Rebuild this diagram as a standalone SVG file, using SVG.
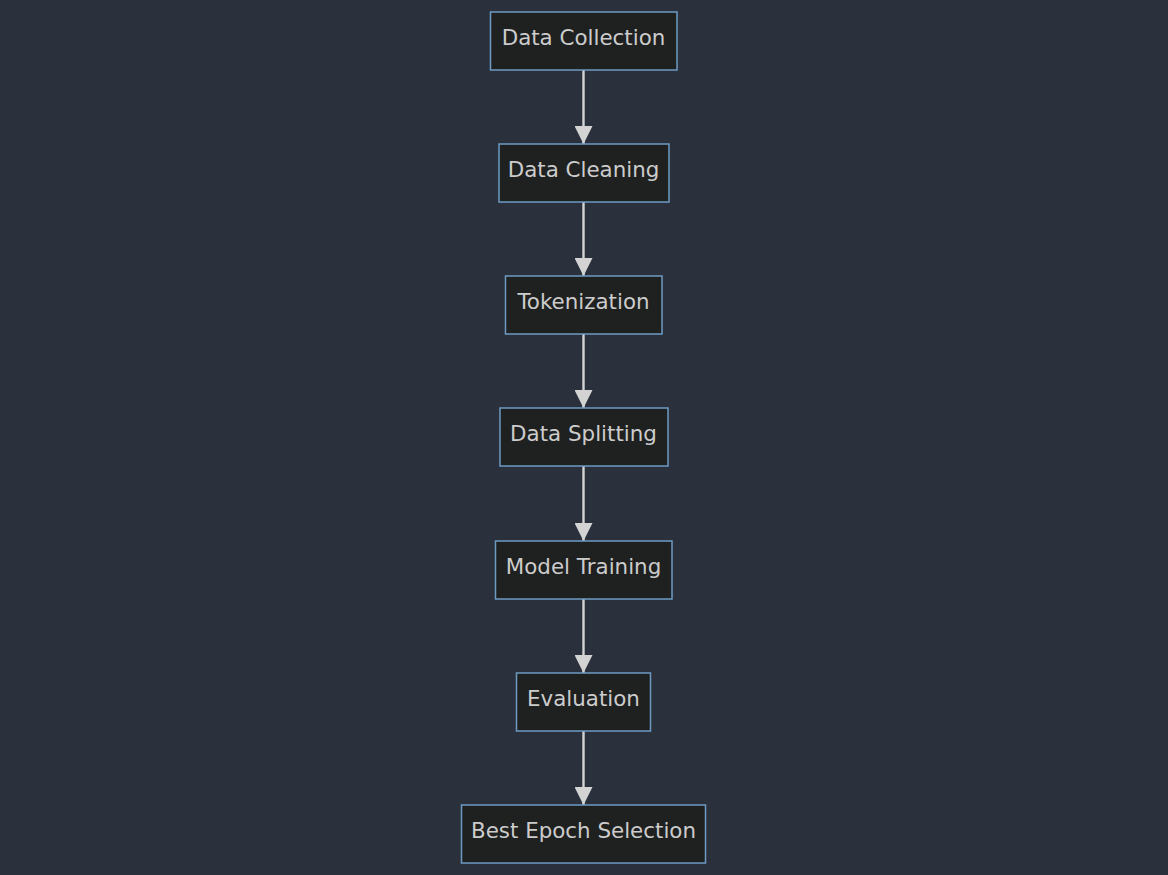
<svg xmlns="http://www.w3.org/2000/svg" width="1168" height="875" viewBox="0 0 1168 875">
<style>
.bg{fill:#2a303c}
.node rect{fill:#1f2020;stroke:#6d9bc3;stroke-width:1.5}
.node text{fill:#cccccc;font-family:"DejaVu Sans",sans-serif;font-size:21.4px;text-anchor:middle;dominant-baseline:central}
.edge{stroke:#d3d3d3;stroke-width:2.4;fill:none}
</style>
<defs>
<marker id="ah" viewBox="0 0 18 18" refX="18" refY="9" markerWidth="18" markerHeight="18" markerUnits="userSpaceOnUse" orient="auto">
<path d="M0,0 L18,9 L0,18 z" fill="#d3d3d3"/>
</marker>
</defs>
<rect class="bg" x="0" y="0" width="1168" height="875"/>
<g id="connectors">
<line class="edge" x1="583.5" y1="70" x2="583.5" y2="144" marker-end="url(#ah)"/>
<line class="edge" x1="583.5" y1="202" x2="583.5" y2="276" marker-end="url(#ah)"/>
<line class="edge" x1="583.5" y1="334" x2="583.5" y2="408" marker-end="url(#ah)"/>
<line class="edge" x1="583.5" y1="466" x2="583.5" y2="541" marker-end="url(#ah)"/>
<line class="edge" x1="583.5" y1="599" x2="583.5" y2="673" marker-end="url(#ah)"/>
<line class="edge" x1="583.5" y1="731" x2="583.5" y2="805" marker-end="url(#ah)"/>
</g>
<g id="n1" class="node"><rect x="490.5" y="12" width="186.5" height="58"/><text x="583.5" y="37">Data Collection</text></g>
<g id="n2" class="node"><rect x="499" y="144" width="170" height="58"/><text x="583.5" y="169">Data Cleaning</text></g>
<g id="n3" class="node"><rect x="505.5" y="276" width="156.5" height="58"/><text x="583.5" y="301">Tokenization</text></g>
<g id="n4" class="node"><rect x="500" y="408" width="168" height="58"/><text x="583.5" y="433">Data Splitting</text></g>
<g id="n5" class="node"><rect x="495.5" y="541" width="176.5" height="58"/><text x="583.5" y="566">Model Training</text></g>
<g id="n6" class="node"><rect x="516.5" y="673" width="134" height="58"/><text x="583.5" y="698">Evaluation</text></g>
<g id="n7" class="node"><rect x="461.5" y="805" width="244" height="58"/><text x="583.5" y="830">Best Epoch Selection</text></g>
</svg>
